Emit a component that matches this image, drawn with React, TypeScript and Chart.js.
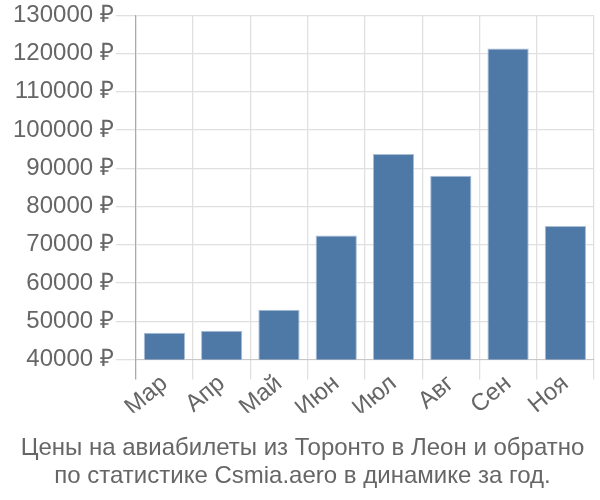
import React, { useEffect, useRef } from "react";
import { Chart, registerables } from "chart.js";

Chart.register(...registerables);

const categories = ["Мар", "Апр", "Май", "Июн", "Июл", "Авг", "Сен", "Ноя"];
const prices = [47000, 47500, 53000, 72400, 93700, 88000, 121300, 74900];
const yMin = 40000;
const yMax = 130000;
const yStep = 10000;
const titleLines = [
  "Цены на авиабилеты из Торонто в Леон и обратно",
  "по статистике Csmia.aero в динамике за год.",
];

export default function App() {
  const ref = useRef<HTMLCanvasElement | null>(null);
  useEffect(() => {
    if (!ref.current) return;
    const font = "'Liberation Sans', Arial, sans-serif";
    const chart = new Chart(ref.current, {
      type: "bar",
      data: {
        labels: categories,
        datasets: [
          {
            data: prices,
            backgroundColor: "#4e79a7",
            borderColor: "#a9bfd6",
            borderWidth: 1,
          },
        ],
      },
      options: {
        animation: false,
        responsive: false,
        maintainAspectRatio: false,
        layout: { padding: { left: 11, right: 6, top: 0, bottom: 4 } },
        plugins: {
          legend: { display: false },
          tooltip: { enabled: false },
          title: {
            display: true,
            position: "bottom",
            text: titleLines,
            color: "#666",
            font: { family: font, size: 24, weight: "normal", lineHeight: 1.15 },
            padding: { top: 22, bottom: 6 },
          },
        },
        scales: {
          x: {
            grid: {
              color: (ctx: any) => (ctx.index === 0 ? "#aaaaaa" : "#e0e0e0"),
              lineWidth: 1.3,
              tickLength: 20,
              offset: true,
            },
            border: { color: "#c8c8c8" },
            ticks: {
              color: "#666",
              font: { family: font, size: 24 },
              minRotation: 40,
              maxRotation: 40,
              padding: -10,
            },
          },
          y: {
            min: yMin,
            max: yMax,
            grid: { color: "#e0e0e0", lineWidth: 1.3, tickLength: 20 },
            border: { color: "#aaaaaa" },
            ticks: {
              stepSize: yStep,
              color: "#666",
              font: { family: font, size: 24, lineHeight: 1.1 },
              padding: 2,
              callback: (v: any) => `${v} ₽`,
            },
          },
        },
      },
    });
    return () => chart.destroy();
  }, []);
  return (
    <div style={{ position: "absolute", left: 0, top: 0, width: 600, height: 500 }}>
      <canvas ref={ref} width={600} height={500} style={{ width: 600, height: 500 }} />
    </div>
  );
}
